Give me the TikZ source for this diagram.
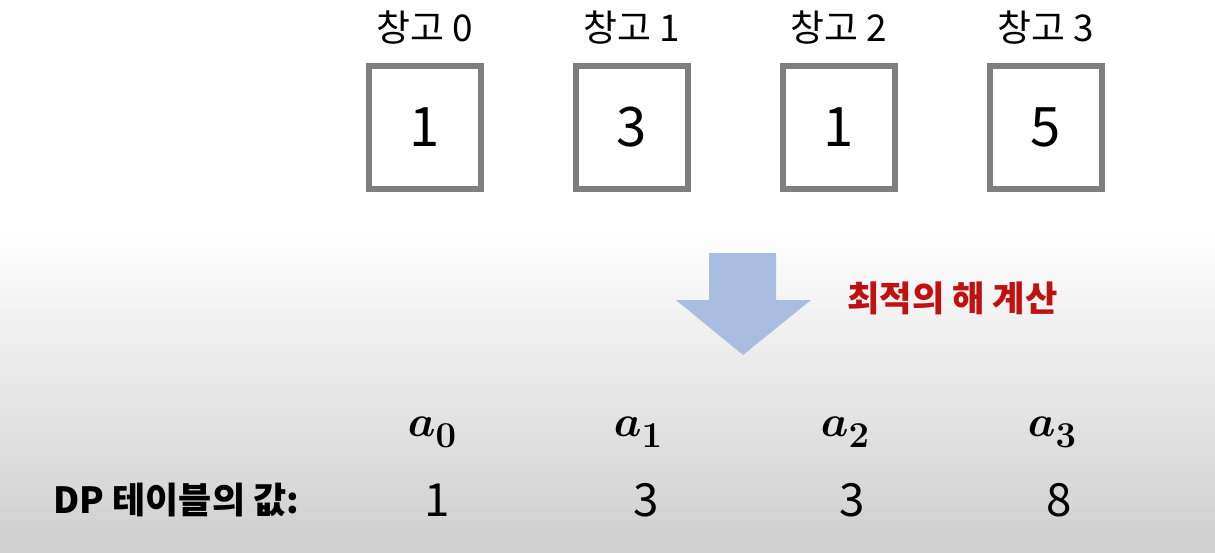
\documentclass[tikz,border=0pt]{standalone}
\usepackage{amsmath}
\usepackage{bm}
\usepackage[no-math]{fontspec}
\setmainfont{Noto Sans CJK KR}
\usetikzlibrary{positioning}
\definecolor{boxgray}{RGB}{127,127,127}
\definecolor{arrowblue}{RGB}{168,189,224}
\definecolor{titlered}{RGB}{192,16,16}

\begin{document}
\begin{tikzpicture}[x=0.02cm, y=-0.02cm,
        store/.style={draw=boxgray, line width=0.12cm, fill=white,
          minimum width=2.24cm, minimum height=2.46cm, inner sep=0pt,
          font=\fontsize{31}{31}\selectfont},
        storelabel/.style={font=\fontsize{21}{21}\selectfont, inner sep=0pt},
        idx/.style={font=\fontsize{31}{31}\selectfont, inner sep=0pt},
        dpval/.style={font=\fontsize{26}{26}\selectfont, inner sep=0pt}
        ]
        % background
        \useasboundingbox (0,0) rectangle (1215,552);
        \fill[white] (0,0) rectangle (1215,552);
        \shade[top color=white, bottom color=black!19] (0,225) rectangle (1215,552);
        % warehouses
        \foreach \i/\x/\v in {0/425/1, 1/632/3, 2/839/1, 3/1046/5} {
          \node[store] (s\i) at (\x,127.5) {\v};
          \node[storelabel] (l\i) at (\x,28) {창고 \i};
        }
        % arrow
        \fill[arrowblue] (709,253) -- (776,253) -- (776,300) -- (811,300)
          -- (743,355) -- (676,300) -- (709,300) -- cycle;
        \node[font=\fontsize{20}{20}\selectfont\bfseries, text=titlered,
          anchor=west, inner sep=0pt] (calc) at (847,298) {최적의 해 계산};
        % dp table
        \foreach \i/\xa/\xv/\v in {0/432/437/1, 1/638/646/3, 2/845/852/3, 3/1052/1059/8} {
          \node[idx] (a\i) at (\xa,432)
            {$\bm{a}$\raisebox{-0.2em}{\fontsize{22}{22}\selectfont$\mathbf{\i}$}};
          \node[dpval] (d\i) at (\xv,500) {\v};
        }
        \node[font=\fontsize{20.5}{20.5}\selectfont\bfseries, anchor=west,
          inner sep=0pt] (dp) at (53,500) {DP 테이블의 값:};
      \end{tikzpicture}
\end{document}
